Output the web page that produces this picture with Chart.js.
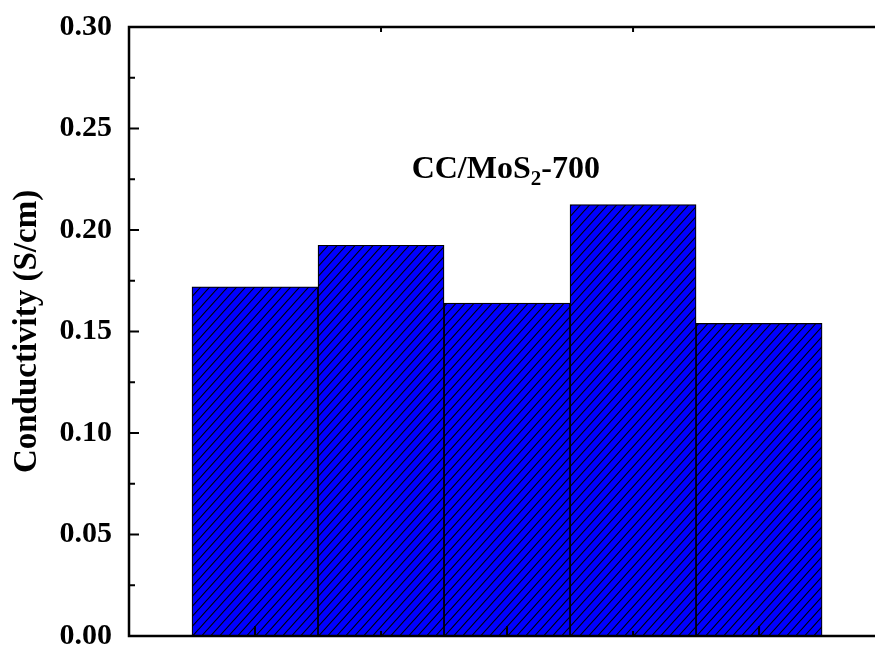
<!DOCTYPE html>
<html>
<head>
<meta charset="utf-8">
<script src="https://cdn.jsdelivr.net/npm/chart.js@4.4.1/dist/chart.umd.min.js"></script>
<style>
html, body { margin: 0; padding: 0; background: #fff; overflow: hidden; }
#wrap { width: 875px; height: 649px; }
</style>
</head>
<body>
<div id="wrap"><canvas id="chart"></canvas></div>
<script>
// sample positions on the x axis and measured conductivity
const samples = [1, 2, 3, 4, 5];
const conductivity = [0.172, 0.1925, 0.164, 0.2125, 0.154];
const yTicks = [0, 0.05, 0.10, 0.15, 0.20, 0.25, 0.30];
const xMajorTicks = [1, 3, 5];
const xMinorTicks = [2, 4];
const topTicks = [2, 4];
const labelParts = ['CC/MoS', '2', '-700'];
const labelAt = [2.99, 0.232];

const serif = "'Liberation Serif', 'Times New Roman', serif";

function hatch() {
    const w = 9, h = 10;
    const c = document.createElement('canvas');
    c.width = w; c.height = h;
    const g = c.getContext('2d');
    g.fillStyle = '#0000ff';
    g.fillRect(0, 0, w, h);
    g.strokeStyle = '#000';
    g.lineWidth = 1.1;
    g.beginPath();
    for (let k = -1; k <= 1; k++) {
        g.moveTo(k * w - 1, h + h / w);
        g.lineTo(k * w + w + 1, -h / w);
    }
    g.stroke();
    return g.createPattern(c, 'repeat');
}

const frame = {
    id: 'frame',
    afterDatasetsDraw(chart) {
        const { ctx, chartArea: a, scales: { x, y } } = chart;
        ctx.save();
        ctx.strokeStyle = '#000';
        ctx.lineWidth = 2.5;
        ctx.beginPath();
        ctx.moveTo(a.left - 1.25, a.top); ctx.lineTo(a.right + 2, a.top);
        ctx.moveTo(a.left, a.top); ctx.lineTo(a.left, a.bottom);
        ctx.moveTo(a.left - 1.25, a.bottom); ctx.lineTo(a.right + 2, a.bottom);
        ctx.stroke();

        ctx.lineWidth = 2;
        ctx.beginPath();
        yTicks.forEach((v, i) => {
            const p = y.getPixelForValue(v);
            ctx.moveTo(a.left, p); ctx.lineTo(a.left + 10, p);
            if (i < yTicks.length - 1) {
                const m = y.getPixelForValue((v + yTicks[i + 1]) / 2);
                ctx.moveTo(a.left, m); ctx.lineTo(a.left + 6, m);
            }
        });
        xMajorTicks.forEach(v => {
            const p = x.getPixelForValue(v);
            ctx.moveTo(p, a.bottom); ctx.lineTo(p, a.bottom - 10);
        });
        xMinorTicks.forEach(v => {
            const p = x.getPixelForValue(v);
            ctx.moveTo(p, a.bottom); ctx.lineTo(p, a.bottom - 5);
        });
        topTicks.forEach(v => {
            const p = x.getPixelForValue(v);
            ctx.moveTo(p, a.top); ctx.lineTo(p, a.top + 5);
        });
        ctx.stroke();

        // sample label with subscript
        const big = `bold 32px ${serif}`, small = `bold 21px ${serif}`;
        ctx.font = big;
        const w0 = ctx.measureText(labelParts[0]).width;
        const w2 = ctx.measureText(labelParts[2]).width;
        ctx.font = small;
        const w1 = ctx.measureText(labelParts[1]).width;
        let cx = x.getPixelForValue(labelAt[0]) - (w0 + w1 + w2) / 2;
        const cy = y.getPixelForValue(labelAt[1]);
        ctx.fillStyle = '#000';
        ctx.textBaseline = 'alphabetic';
        ctx.textAlign = 'left';
        ctx.font = big;
        ctx.fillText(labelParts[0], cx, cy + 13);
        cx += w0;
        ctx.font = small;
        ctx.fillText(labelParts[1], cx, cy + 20);
        cx += w1;
        ctx.font = big;
        ctx.fillText(labelParts[2], cx, cy + 13);
        ctx.restore();
    }
};

new Chart(document.getElementById('chart'), {
    type: 'bar',
    data: {
        labels: samples,
        datasets: [{
            data: conductivity,
            backgroundColor: hatch(),
            borderColor: '#000',
            borderWidth: 1.2,
            barPercentage: 1,
            categoryPercentage: 1,
        }],
    },
    options: {
        responsive: true,
        maintainAspectRatio: false,
        animation: false,
        layout: { padding: { top: 27, bottom: 13, left: 0, right: 0 } },
        plugins: {
            legend: { display: false },
            tooltip: { enabled: false },
        },
        scales: {
            x: {
                type: 'linear',
                min: 0,
                max: 5.92,
                offset: false,
                display: false,
                afterBuildTicks: s => { s.ticks = samples.map(v => ({ value: v })); },
            },
            y: {
                min: 0,
                max: 0.3,
                grid: { color: 'rgba(0,0,0,0)', drawOnChartArea: false, drawTicks: true, tickLength: 17 },
                border: { display: false },
                ticks: {
                    stepSize: 0.05,
                    color: '#000',
                    padding: 0,
                    font: { family: serif, size: 30, weight: 'bold', lineHeight: 0.8 },
                    callback: v => v.toFixed(2),
                },
                title: {
                    display: true,
                    text: 'Conductivity (S/cm)',
                    color: '#000',
                    font: { family: serif, size: 33, weight: 'bold', lineHeight: 1.2 },
                    padding: { top: 8, bottom: 0 },
                },
                afterFit: s => { s.width = 129; },
            },
        },
    },
    plugins: [frame],
});
</script>
</body>
</html>
